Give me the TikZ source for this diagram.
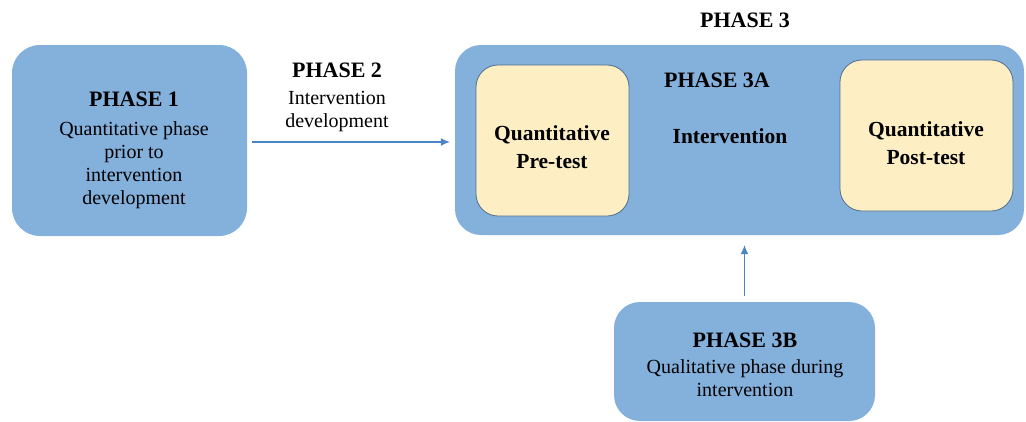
\documentclass[tikz,border=0pt]{standalone}
\usepackage{fontspec}
\setmainfont{Liberation Serif}
\usetikzlibrary{arrows.meta}
\definecolor{boxblue}{RGB}{132,176,220}
\definecolor{boxyellow}{RGB}{253,238,196}
\definecolor{edgeblue}{RGB}{80,110,140}
\definecolor{arrowblue}{RGB}{74,134,198}
\tikzset{
  bluebox/.style={draw=none, fill=boxblue, rounded corners=28pt, inner sep=0pt},
  yellowbox/.style={draw=edgeblue, line width=0.8pt, fill=boxyellow, rounded corners=22pt, inner sep=0pt},
  title/.style={font=\fontsize{22}{25}\selectfont\bfseries, inner sep=0pt},
  body/.style={font=\fontsize{20}{23}\selectfont, align=center, inner sep=0pt},
  btext/.style={font=\fontsize{21.5}{28}\selectfont\bfseries, align=center, inner sep=0pt},
  arr/.style={draw=arrowblue, line width=1.2pt, -{Latex[length=9pt,width=8pt]}}
}
\begin{document}
\begin{tikzpicture}[x=1pt,y=-1pt]
\useasboundingbox (0,0) rectangle (1026,421);
% boxes
\node[bluebox, minimum width=235pt, minimum height=191pt] (p1) at (129.5,140.5) {};
\node[bluebox, rounded corners=26pt, minimum width=569pt, minimum height=190pt] (p3) at (739.5,140) {};
\node[yellowbox, minimum width=153pt, minimum height=151pt] (pre) at (552.5,140.5) {};
\node[yellowbox, minimum width=173pt, minimum height=151pt] (post) at (926.5,135.5) {};
\node[bluebox, rounded corners=26pt, minimum width=261pt, minimum height=119pt] (p3b) at (744.5,361.5) {};
% texts (multi-line nodes anchored at the baseline of their last line)
\node[title, anchor=base] (t1) at (134,106) {PHASE 1};
\node[body, anchor=base] (t1b) at (134,204) {Quantitative phase\\prior to\\intervention\\development};
\node[title, anchor=base] (t2) at (337,77) {PHASE 2};
\node[body, anchor=base] (t2b) at (337,127) {Intervention\\development};
\node[title, anchor=base] (t3) at (745,27) {PHASE 3};
\node[title, anchor=base] (t3a) at (717,87) {PHASE 3A};
\node[btext, anchor=base] (tint) at (730,143) {Intervention};
\node[btext, anchor=base] (tpre) at (552,168) {Quantitative\\Pre-test};
\node[btext, anchor=base] (tpost) at (926,164) {Quantitative\\Post-test};
\node[title, anchor=base] (t3b) at (745,347) {PHASE 3B};
\node[body, anchor=base] (t3bb) at (745,396) {Qualitative phase during\\intervention};
% connectors
\draw[arr] ([xshift=5pt,yshift=-1.5pt]p1.east) -- ([xshift=-5pt,yshift=-2pt]p3.west);
\draw[arr] ([yshift=6pt]p3b.north) -- ([yshift=-10pt]p3b.north |- p3.south);
\end{tikzpicture}
\end{document}
